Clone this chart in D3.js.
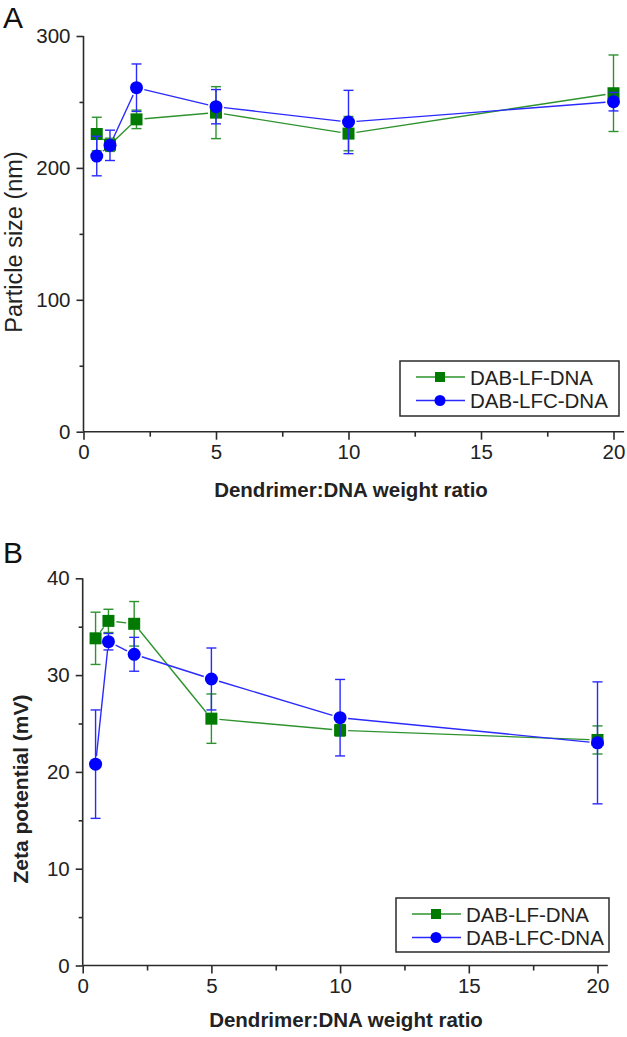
<!DOCTYPE html>
<html>
<head>
<meta charset="utf-8">
<script src="https://cdn.jsdelivr.net/npm/d3@7"></script>
<style>
  body { margin: 0; background: #fff; }
  svg { display: block; font-family: "Liberation Sans", Arial, sans-serif; }
</style>
</head>
<body>
<svg id="chart" width="627" height="1037"></svg>
<script>
// weight ratios (x) shared by both panels
var ratios = [0.5, 1, 2, 5, 10, 20];

// panel A: particle size (nm)
var sizeLF = [225.7, 217.5, 236.8, 241.9, 226, 256.6];
var sizeLFErr = [12.7, 5, 7, 19.7, 13, 29];
var sizeLFC = [209, 217.1, 260.8, 246.4, 234.8, 250.2];
var sizeLFCErr = [15, 11.5, 18, 13, 24, 7];

// panel B: zeta potential (mV)
var zetaLF = [33.8, 35.6, 35.3, 25.5, 24.3, 23.3];
var zetaLFErr = [2.7, 1.2, 2.3, 2.55, 0.6, 1.45];
var zetaLFC = [20.8, 33.45, 32.15, 29.6, 25.6, 23.0];
var zetaLFCErr = [5.6, 0.85, 1.75, 3.2, 3.95, 6.3];

var seriesNames = ["DAB-LF-DNA", "DAB-LFC-DNA"];
var xMajor = [0, 5, 10, 15, 20];
var xMinor = [2.5, 7.5, 12.5, 17.5];

var green = "#007a00", greenLine = "#2e932e";
var blue = "#0000ff", blueLine = "#2a2aff";
var axisColor = "#2b2b2b";

var svg = d3.select("#chart");

function drawPanel(p) {
	var x = d3.scaleLinear().domain([0, 20]).range(p.xRange);
	var y = d3.scaleLinear().domain(p.yDomain).range(p.yRange);
	var g = svg.append("g");

	// axes lines
	g.append("line")
		.attr("x1", x(0)).attr("x2", x(0))
		.attr("y1", y(p.yDomain[0])).attr("y2", y(p.yDomain[1]))
		.attr("stroke", axisColor).attr("stroke-width", 1.6);
	g.append("line")
		.attr("x1", x(0)).attr("x2", x(20.4))
		.attr("y1", y(0)).attr("y2", y(0))
		.attr("stroke", axisColor).attr("stroke-width", 1.6);

	var yAx = g.append("g").attr("transform", "translate(" + x(0) + ",0)")
		.call(d3.axisLeft(y).tickValues(p.yMajor).tickSize(7).tickPadding(6).tickSizeOuter(0));
	var yMin = g.append("g").attr("transform", "translate(" + x(0) + ",0)")
		.call(d3.axisLeft(y).tickValues(p.yMinor).tickSize(4).tickFormat("").tickSizeOuter(0));
	var xAx = g.append("g").attr("transform", "translate(0," + y(0) + ")")
		.call(d3.axisBottom(x).tickValues(xMajor).tickSize(8).tickPadding(5).tickSizeOuter(0));
	var xMin = g.append("g").attr("transform", "translate(0," + y(0) + ")")
		.call(d3.axisBottom(x).tickValues(xMinor).tickSize(5).tickFormat("").tickSizeOuter(0));

	[yAx, yMin, xAx, xMin].forEach(function(a) {
		a.select(".domain").remove();
		a.selectAll("line").attr("stroke", axisColor).attr("stroke-width", 1.6);
		a.selectAll("text").attr("fill", "#222").style("font-size", "20.5px")
			.style("font-family", "Liberation Sans, Arial, sans-serif");
	});

	// series: lines with small gaps, error bars, markers
	p.series.forEach(function(s) {
		var pts = ratios.map(function(r, i) { return [x(r), y(s.values[i])]; });
		var gap = 8;
		for (var i = 0; i < pts.length - 1; i++) {
			var a = pts[i], b = pts[i + 1];
			var dx = b[0] - a[0], dy = b[1] - a[1];
			var len = Math.sqrt(dx * dx + dy * dy);
			if (len <= 2 * gap) continue;
			var ux = dx / len, uy = dy / len;
			g.append("line")
				.attr("x1", a[0] + ux * gap).attr("y1", a[1] + uy * gap)
				.attr("x2", b[0] - ux * gap).attr("y2", b[1] - uy * gap)
				.attr("stroke", s.line).attr("stroke-width", 1.4);
		}
		ratios.forEach(function(r, i) {
			var cx = x(r), hi = y(s.values[i] + s.errs[i]), lo = y(s.values[i] - s.errs[i]);
			g.append("line").attr("x1", cx).attr("x2", cx).attr("y1", hi).attr("y2", lo)
				.attr("stroke", s.line).attr("stroke-width", 1.4);
			[hi, lo].forEach(function(yy) {
				g.append("line").attr("x1", cx - 5).attr("x2", cx + 5).attr("y1", yy).attr("y2", yy)
					.attr("stroke", s.line).attr("stroke-width", 1.4);
			});
		});
		if (s.shape === "square") {
			g.selectAll(null).data(pts).enter().append("rect")
				.attr("x", function(d) { return d[0] - 6; })
				.attr("y", function(d) { return d[1] - 6; })
				.attr("width", 12).attr("height", 12)
				.attr("fill", s.color);
		} else {
			g.selectAll(null).data(pts).enter().append("circle")
				.attr("cx", function(d) { return d[0]; })
				.attr("cy", function(d) { return d[1]; })
				.attr("r", 6.5)
				.attr("fill", s.color);
		}
	});

	// legend
	var L = p.legend;
	g.append("rect").attr("x", L.x).attr("y", L.y).attr("width", L.w).attr("height", L.h)
		.attr("fill", "#fff").attr("stroke", axisColor).attr("stroke-width", 1.5);
	p.series.forEach(function(s, i) {
		var ry = L.y + 16 + i * 23.5;
		g.append("line").attr("x1", L.x + 16).attr("x2", L.x + 65).attr("y1", ry).attr("y2", ry)
			.attr("stroke", s.line).attr("stroke-width", 1.4);
		if (s.shape === "square") {
			g.append("rect").attr("x", L.x + 35).attr("y", ry - 5).attr("width", 10).attr("height", 10)
				.attr("fill", s.color);
		} else {
			g.append("circle").attr("cx", L.x + 40).attr("cy", ry).attr("r", 5.5).attr("fill", s.color);
		}
		g.append("text").attr("x", L.x + 70).attr("y", ry + 7.5)
			.style("font-size", "20.5px").attr("fill", "#222").text(seriesNames[i]);
	});

	// titles
	g.append("text").attr("x", p.xTitle[0]).attr("y", p.xTitle[1])
		.attr("text-anchor", "middle").style("font-size", "20.5px").style("font-weight", "bold")
		.attr("fill", "#222").text("Dendrimer:DNA weight ratio");
	g.append("text")
		.attr("transform", "translate(" + p.yTitle[0] + "," + p.yTitle[1] + ") rotate(-90)")
		.attr("text-anchor", "middle").style("font-size", p.yFont)
		.style("font-weight", p.yBold ? "bold" : "normal")
		.attr("fill", "#222").text(p.yLabel);
	g.append("text").attr("x", 3).attr("y", p.letterY)
		.style("font-size", "30px").attr("fill", "#111").text(p.letter);
}

drawPanel({
	letter: "A", letterY: 28,
	xRange: [83.5, 613.5], yDomain: [0, 300], yRange: [431.7, 36],
	yMajor: [0, 100, 200, 300], yMinor: [50, 150, 250],
	yLabel: "Particle size (nm)", yBold: false, yFont: "23.5px", yTitle: [22, 242],
	xTitle: [351, 497],
	legend: { x: 400, y: 361, w: 219, h: 55 },
	series: [
		{ values: sizeLF, errs: sizeLFErr, shape: "square", color: green, line: greenLine },
		{ values: sizeLFC, errs: sizeLFCErr, shape: "circle", color: blue, line: blueLine }
	]
});

drawPanel({
	letter: "B", letterY: 563,
	xRange: [82.7, 597.5], yDomain: [0, 40], yRange: [965.5, 578.3],
	yMajor: [0, 10, 20, 30, 40], yMinor: [5, 15, 25, 35],
	yLabel: "Zeta potential (mV)", yBold: true, yFont: "21px", yTitle: [28, 789],
	xTitle: [346, 1027],
	legend: { x: 396, y: 898, w: 213, h: 54 },
	series: [
		{ values: zetaLF, errs: zetaLFErr, shape: "square", color: green, line: greenLine },
		{ values: zetaLFC, errs: zetaLFCErr, shape: "circle", color: blue, line: blueLine }
	]
});
</script>
</body>
</html>
